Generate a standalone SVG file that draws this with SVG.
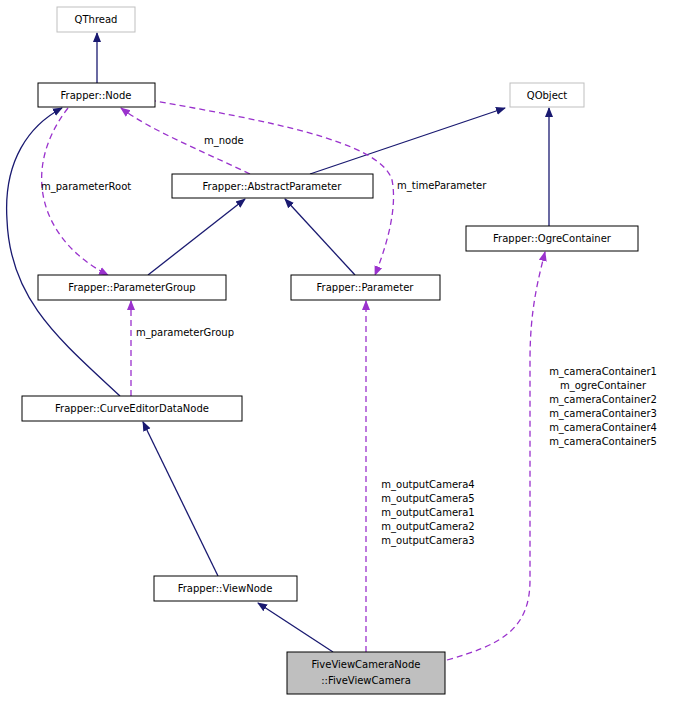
<svg xmlns="http://www.w3.org/2000/svg" width="681" height="701" viewBox="0 0 681 701">
<style>
.n rect{fill:#fff;stroke:#000;stroke-width:1}
.g rect{fill:#fff;stroke:#bfbfbf;stroke-width:1}
text{font-family:"DejaVu Sans",sans-serif;font-size:10px;fill:#000}
.c text{text-anchor:middle}
.s{fill:none;stroke:#191970;stroke-width:1.3}
.d{fill:none;stroke:#9a32cd;stroke-width:1.3;stroke-dasharray:6,4}
</style>
<defs>
<marker id="a" markerWidth="10" markerHeight="10" refX="9" refY="5" orient="auto" markerUnits="userSpaceOnUse"><path d="M0,1 L10,5 L0,9 Z" fill="#191970"/></marker>
<marker id="p" markerWidth="10" markerHeight="10" refX="9" refY="5" orient="auto" markerUnits="userSpaceOnUse"><path d="M0,1 L10,5 L0,9 Z" fill="#9a32cd"/></marker>
</defs>
<rect width="681" height="701" fill="#fff"/>
<g id="connectors">
<path class="s" d="M97,83 L97,33" marker-end="url(#a)"/>
<path class="s" d="M310,174 L505,108" marker-end="url(#a)"/>
<path class="s" d="M549,226 L549,108" marker-end="url(#a)"/>
<path class="s" d="M148,275 L245,199" marker-end="url(#a)"/>
<path class="s" d="M355,275 L285,199" marker-end="url(#a)"/>
<path class="s" d="M120,396 C60,340 10,300 7,220 C3,160 30,125 62,108" marker-end="url(#a)"/>
<path class="s" d="M218,576 L143,422" marker-end="url(#a)"/>
<path class="s" d="M333,652 L258,603" marker-end="url(#a)"/>
<path class="d" d="M250,174 C200,150 150,130 121,108" marker-end="url(#p)"/>
<path class="d" d="M68,108 C20,170 40,240 108,275" marker-end="url(#p)"/>
<path class="d" d="M150,100 C260,120 380,140 392,180 C398,210 385,250 375,275" marker-end="url(#p)"/>
<path class="d" d="M131,396 L131,301" marker-end="url(#p)"/>
<path class="d" d="M366,652 L366,301" marker-end="url(#p)"/>
<path class="d" d="M447,660 C500,645 530,630 530,580 L530,360 C530,310 538,280 545,252" marker-end="url(#p)"/>
<text x="204" y="144">m_node</text>
<text x="41" y="190">m_parameterRoot</text>
<text x="397" y="189">m_timeParameter</text>
<text x="136" y="336">m_parameterGroup</text>
<g class="c">
<text x="428" y="488">m_outputCamera4</text>
<text x="428" y="502">m_outputCamera5</text>
<text x="428" y="516">m_outputCamera1</text>
<text x="428" y="530">m_outputCamera2</text>
<text x="428" y="544">m_outputCamera3</text>
<text x="603" y="375">m_cameraContainer1</text>
<text x="603" y="389">m_ogreContainer</text>
<text x="603" y="403">m_cameraContainer2</text>
<text x="603" y="417">m_cameraContainer3</text>
<text x="603" y="431">m_cameraContainer4</text>
<text x="603" y="445">m_cameraContainer5</text>
</g>
</g>
<g id="QThread" class="g c"><rect x="57" y="7" width="78" height="25"/><text x="96" y="23" fill="#000">QThread</text></g>
<g id="Node" class="n c"><rect x="38" y="83" width="117" height="24"/><text x="96" y="99">Frapper::Node</text></g>
<g id="QObject" class="g c"><rect x="510" y="83" width="74" height="24"/><text x="547" y="99">QObject</text></g>
<g id="AbstractParameter" class="n c"><rect x="172" y="174" width="201" height="24"/><text x="272" y="190">Frapper::AbstractParameter</text></g>
<g id="OgreContainer" class="n c"><rect x="466" y="226" width="172" height="25"/><text x="552" y="242">Frapper::OgreContainer</text></g>
<g id="ParameterGroup" class="n c"><rect x="38" y="275" width="188" height="25"/><text x="132" y="291">Frapper::ParameterGroup</text></g>
<g id="Parameter" class="n c"><rect x="291" y="275" width="149" height="25"/><text x="365" y="291">Frapper::Parameter</text></g>
<g id="CurveEditorDataNode" class="n c"><rect x="22" y="396" width="220" height="25"/><text x="132" y="412">Frapper::CurveEditorDataNode</text></g>
<g id="ViewNode" class="n c"><rect x="154" y="576" width="143" height="25"/><text x="225" y="592">Frapper::ViewNode</text></g>
<g id="FiveViewCamera" class="c"><rect x="287" y="652" width="158" height="42" fill="#bfbfbf" stroke="#000"/><text x="366" y="668">FiveViewCameraNode</text><text x="366" y="684">::FiveViewCamera</text></g>
</svg>
